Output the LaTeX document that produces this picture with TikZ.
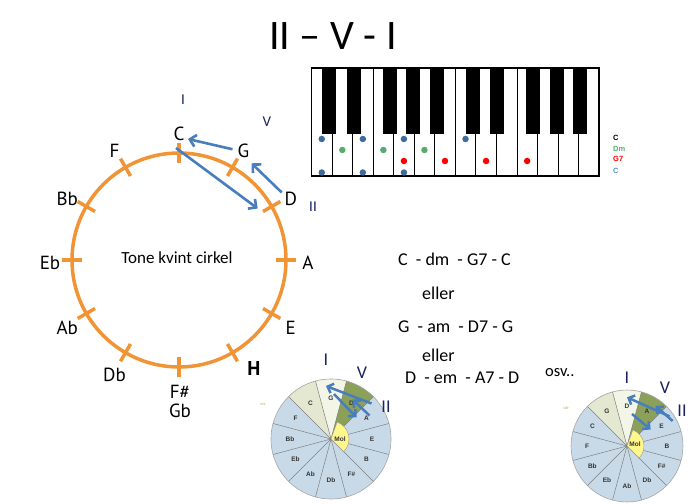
\documentclass[tikz,border=0pt]{standalone}
\usepackage{fontspec}
\setmainfont{Carlito}
\newfontfamily\handfont{PT Sans}
\newfontfamily\arialfont{Liberation Sans}
\usepackage{tikz}
\usetikzlibrary{arrows.meta,positioning,calc}

\definecolor{kvintorange}{RGB}{241,148,54}
\definecolor{arrowblue}{RGB}{72,125,190}
\definecolor{numnavy}{RGB}{25,35,95}
\definecolor{wheelblue}{RGB}{200,218,232}
\definecolor{wheellight}{RGB}{243,245,230}
\definecolor{wheelcream}{RGB}{228,232,208}
\definecolor{wheelolive}{RGB}{139,161,90}
\definecolor{molyellow}{RGB}{255,247,140}
\definecolor{dotblue}{RGB}{62,106,160}
\definecolor{dotgreen}{RGB}{88,170,112}
\definecolor{legendgreen}{RGB}{80,176,110}
\definecolor{legendblue}{RGB}{90,150,210}
\definecolor{tinyolive}{RGB}{170,175,90}

\begin{document}
\begin{tikzpicture}[x=1pt, y=1pt,
    tonelabel/.style={font=\handfont\fontsize{19}{19}\selectfont, inner sep=1pt},
    romannum/.style={text=numnavy, font=\fontsize{15}{15}\selectfont, inner sep=0pt},
    chordtext/.style={anchor=west, font=\fontsize{18}{18}\selectfont, inner sep=0pt},
    bluearrow/.style={-{Straight Barb[length=6pt,width=12pt]}, arrowblue, line width=2.6pt},
    wheelarrow/.style={-{Straight Barb[length=5pt,width=10pt]}, arrowblue, line width=2.5pt},
    kvintline/.style={kvintorange, line width=3.5pt},
    keydot/.style={circle, inner sep=0pt, minimum size=6.5pt},
    wheeltxt/.style={font=\arialfont\bfseries\fontsize{6.5}{6.5}\selectfont, text=black!80, inner sep=0pt},
    legendtxt/.style={anchor=west, font=\arialfont\bfseries\fontsize{7.5}{7.5}\selectfont, inner sep=0pt}]
\useasboundingbox (0,0) rectangle (695,503);

% Title
\node[font=\fontsize{42}{42}\selectfont] (title) at (333,467) {II -- V - I};

% Kvint circle
\coordinate (kc) at (179,243);
\draw[kvintline] (kc) circle[radius=107];
\foreach \a in {0,30,...,330}
  \draw[kvintline] ($(kc)+(\a:97)$) -- ($(kc)+(\a:117)$);
\node[font=\fontsize{17}{17}\selectfont] (kvtitle) at (177,245) {Tone kvint cirkel};

\foreach \n/\t/\a in {tC/C/90, tG/G/60, tD/D/30, tA/A/0, tE/E/-30, tDb/Db/-120,
    tAb/Ab/-150, tEb/Eb/180, tBb/Bb/150, tF/F/120}
  \node[tonelabel] (\n) at ($(kc)+(\a:129)+(0,-3)$) {\t};
\node[tonelabel, font=\handfont\bfseries\fontsize{20}{20}\selectfont] (tH) at (254,134) {H};
\node[tonelabel, font=\handfont\fontsize{19}{19}\selectfont, align=center] (tFs) at (180,102) {F\#\\Gb};

\node[romannum] (nI) at (183,403) {I};
\node[romannum] (nV) at (267,381) {V};
\node[romannum] (nII) at (313,296) {II};

\draw[bluearrow] ($(tG)+(-11,2)$) -- ($(tC)+(9,-5)$);
\draw[bluearrow] ($(tD)+(-9,6)$) -- ($(tG)+(8,-12)$);
\draw[bluearrow] ($(tC)+(-3,-14)$) -- ($(tD)+(-33,-10)$);

% Keyboard
\foreach \i in {0,...,13}
  \draw[line width=0.7pt] (311.5+\i*20.536,327) rectangle ++(20.536,108);
\foreach \b/\o in {1/-3,2/1,4/-4,5/-1,6/2,8/-3,9/1,11/-4,12/-1,13/2}
  \fill (311.5+\b*20.536+\o-7,369) rectangle ++(14,66);
\draw[line width=1.2pt] (311.5,327) rectangle (599,435);

\foreach \k in {0,2,4,7}
  \node[keydot, fill=dotblue] (cup\k) at (321.77+\k*20.536,364) {};
\foreach \k in {1,3,5}
  \node[keydot, fill=dotgreen] (dm\k) at (321.77+\k*20.536,353) {};
\foreach \k in {4,6,8,10}
  \node[keydot, fill=red] (gs\k) at (321.77+\k*20.536,342) {};
\foreach \k in {0,2,4}
  \node[keydot, fill=dotblue] (clo\k) at (321.77+\k*20.536,330.5) {};

\node[legendtxt] (lgC) at (613,365) {C};
\node[legendtxt, text=legendgreen] (lgDm) at (613,354) {Dm};
\node[legendtxt, text=red] (lgG) at (613,344) {G7};
\node[legendtxt, text=legendblue] (lgCb) at (613,332) {C};

% Chord progressions
\node[chordtext] (prog1) at (398,244) {C\ \ - dm\ \ - G7 - C};
\node[chordtext] (or1) at (422,210) {eller};
\node[chordtext] (prog2) at (398,176) {G\ \ - am\ \ - D7 - G};
\node[chordtext] (or2) at (422,148) {eller};
\node[chordtext] (prog3) at (405,125) {D\ \ - em\ \ - A7 - D};
\node[chordtext, font=\fontsize{16.5}{16.5}\selectfont] (osv) at (545,130) {osv..};

% Wheel in G
\begin{scope}[shift={(331,64)}]
  \fill[wheelblue] (0,0) circle[radius=60];
  \fill[wheellight] (0,0) -- (75:60) arc[start angle=75, end angle=105, radius=60] -- cycle;
  \fill[wheelcream] (0,0) -- (105:60) arc[start angle=105, end angle=135, radius=60] -- cycle;
  \fill[wheelolive] (0,0) -- (45:60) arc[start angle=45, end angle=75, radius=60] -- cycle;
  \foreach \a in {15,45,...,345}
    \draw[gray, line width=0.5pt] (0,0) -- (\a:60);
  \draw[gray!70, line width=0.6pt] (0,0) circle[radius=60];
  \filldraw[fill=molyellow, draw=gray!80, line width=0.4pt] (0,0) -- (-45:18) arc[start angle=-45, end angle=70, radius=18] -- cycle;
  \foreach \n/\t/\a in {G/G/90, D/D/60, A/A/30, E/E/0, B/B/-30, Fs/F\#/-60, Db/Db/-90,
      Ab/Ab/-120, Eb/Eb/-150, Bb/Bb/180, F/F/150, C/C/120}
    \node[wheeltxt] (g\n) at (\a:41) {\t};
  \node[wheeltxt] (gMol) at (9,0) {Mol};
  \node[font=\fontsize{4}{4}\selectfont, text=tinyolive] (gside) at (-68,35) {ole};
\end{scope}
\node[romannum, font=\fontsize{18}{18}\selectfont] (gI) at (326,143) {I};
\node[romannum, font=\fontsize{18}{18}\selectfont] (gV) at (362,130) {V};
\node[romannum, font=\fontsize{18}{18}\selectfont] (gII) at (386,96) {II};
\draw[wheelarrow] ($(gD)+(20,0)$) -- ($(gG)+(-5,12)$);
\draw[wheelarrow] ($(gA)+(3,3)$) -- ($(gD)+(1,4)$);
\draw[wheelarrow] ($(gG)+(3,4)$) -- ($(gA)+(-10,1)$);

% Wheel in D
\begin{scope}[shift={(627,57)}]
  \fill[wheelblue] (0,0) circle[radius=56];
  \fill[wheellight] (0,0) -- (75:56) arc[start angle=75, end angle=105, radius=56] -- cycle;
  \fill[wheelcream] (0,0) -- (105:56) arc[start angle=105, end angle=135, radius=56] -- cycle;
  \fill[wheelolive] (0,0) -- (45:56) arc[start angle=45, end angle=75, radius=56] -- cycle;
  \foreach \a in {15,45,...,345}
    \draw[gray, line width=0.5pt] (0,0) -- (\a:56);
  \draw[gray!70, line width=0.6pt] (0,0) circle[radius=56];
  \filldraw[fill=molyellow, draw=gray!80, line width=0.4pt] (0,0) -- (-45:17) arc[start angle=-45, end angle=70, radius=17] -- cycle;
  \foreach \n/\t/\a in {D/D/90, A/A/60, E/E/30, B/B/0, Fs/F\#/-30, Db/Db/-60, Ab/Ab/-90,
      Eb/Eb/-120, Bb/Bb/-150, F/F/180, C/C/150, G/G/120}
    \node[wheeltxt] (d\n) at (\a:40) {\t};
  \node[wheeltxt] (dMol) at (8,2) {Mol};
  \node[font=\fontsize{4}{4}\selectfont, text=tinyolive] (dside) at (-61,38) {sile};
\end{scope}
\node[romannum, font=\fontsize{18}{18}\selectfont] (dI) at (627,125) {I};
\node[romannum, font=\fontsize{18}{18}\selectfont] (dV) at (665,115) {V};
\node[romannum, font=\fontsize{18}{18}\selectfont] (dII) at (682,92) {II};
\draw[wheelarrow] ($(dA)+(22.5,-5)$) -- ($(dD)+(0,8.7)$);
\draw[wheelarrow] ($(dE)+(11,5)$) -- ($(dA)+(8.5,5.5)$);
\draw[wheelarrow] ($(dD)+(5,-8)$) -- ($(dE)+(-11,-3.5)$);
\end{tikzpicture}
\end{document}
